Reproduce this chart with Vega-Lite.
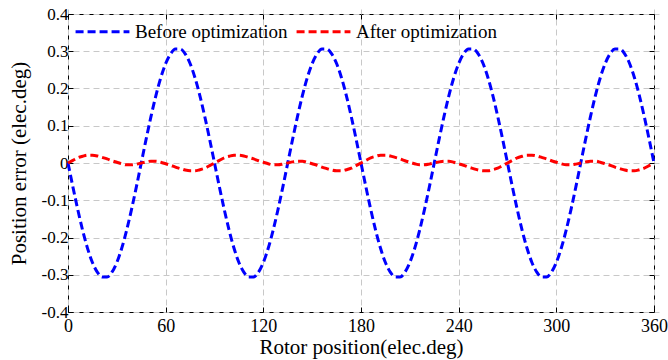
{
  "$schema": "https://vega.github.io/schema/vega-lite/v6.json",
  "width": 586,
  "height": 298,
  "autosize": {"type": "none"},
  "padding": {"left": 68, "top": 14, "right": 14, "bottom": 48},
  "background": "white",
  "config": {
    "font": "Liberation Serif",
    "view": {"stroke": "black", "strokeWidth": 1},
    "axis": {
      "tickColor": "black",
      "tickSize": 5,
      "domain": false,
      "offset": -5,
      "labelColor": "black",
      "titleFontWeight": "normal",
      "titleColor": "black",
      "gridColor": "#c8c8c8",
      "gridDash": [6, 4],
      "labelFlush": false,
      "labelOverlap": false
    }
  },
  "data": {
    "values": [
      {"x": 0, "b": 0, "a": 0},
      {"x": 3, "b": -0.064, "a": 0.007},
      {"x": 6, "b": -0.125, "a": 0.014},
      {"x": 9, "b": -0.181, "a": 0.018},
      {"x": 12, "b": -0.229, "a": 0.021},
      {"x": 15, "b": -0.267, "a": 0.021},
      {"x": 18, "b": -0.293, "a": 0.019},
      {"x": 21, "b": -0.306, "a": 0.015},
      {"x": 24, "b": -0.306, "a": 0.011},
      {"x": 27, "b": -0.293, "a": 0.006},
      {"x": 30, "b": -0.267, "a": 0.002},
      {"x": 33, "b": -0.229, "a": -0.002},
      {"x": 36, "b": -0.181, "a": -0.005},
      {"x": 39, "b": -0.125, "a": -0.005},
      {"x": 42, "b": -0.064, "a": -0.003},
      {"x": 45, "b": 0, "a": 0},
      {"x": 48, "b": 0.064, "a": 0.003},
      {"x": 51, "b": 0.125, "a": 0.005},
      {"x": 54, "b": 0.181, "a": 0.005},
      {"x": 57, "b": 0.229, "a": 0.002},
      {"x": 60, "b": 0.267, "a": -0.002},
      {"x": 63, "b": 0.293, "a": -0.006},
      {"x": 66, "b": 0.306, "a": -0.011},
      {"x": 69, "b": 0.306, "a": -0.015},
      {"x": 72, "b": 0.293, "a": -0.019},
      {"x": 75, "b": 0.267, "a": -0.021},
      {"x": 78, "b": 0.229, "a": -0.021},
      {"x": 81, "b": 0.181, "a": -0.018},
      {"x": 84, "b": 0.125, "a": -0.014},
      {"x": 87, "b": 0.064, "a": -0.007},
      {"x": 90, "b": 0, "a": 0},
      {"x": 93, "b": -0.064, "a": 0.007},
      {"x": 96, "b": -0.125, "a": 0.014},
      {"x": 99, "b": -0.181, "a": 0.018},
      {"x": 102, "b": -0.229, "a": 0.021},
      {"x": 105, "b": -0.267, "a": 0.021},
      {"x": 108, "b": -0.293, "a": 0.019},
      {"x": 111, "b": -0.306, "a": 0.015},
      {"x": 114, "b": -0.306, "a": 0.011},
      {"x": 117, "b": -0.293, "a": 0.006},
      {"x": 120, "b": -0.267, "a": 0.002},
      {"x": 123, "b": -0.229, "a": -0.002},
      {"x": 126, "b": -0.181, "a": -0.005},
      {"x": 129, "b": -0.125, "a": -0.005},
      {"x": 132, "b": -0.064, "a": -0.003},
      {"x": 135, "b": 0, "a": 0},
      {"x": 138, "b": 0.064, "a": 0.003},
      {"x": 141, "b": 0.125, "a": 0.005},
      {"x": 144, "b": 0.181, "a": 0.005},
      {"x": 147, "b": 0.229, "a": 0.002},
      {"x": 150, "b": 0.267, "a": -0.002},
      {"x": 153, "b": 0.293, "a": -0.006},
      {"x": 156, "b": 0.306, "a": -0.011},
      {"x": 159, "b": 0.306, "a": -0.015},
      {"x": 162, "b": 0.293, "a": -0.019},
      {"x": 165, "b": 0.267, "a": -0.021},
      {"x": 168, "b": 0.229, "a": -0.021},
      {"x": 171, "b": 0.181, "a": -0.018},
      {"x": 174, "b": 0.125, "a": -0.014},
      {"x": 177, "b": 0.064, "a": -0.007},
      {"x": 180, "b": 0, "a": 0},
      {"x": 183, "b": -0.064, "a": 0.007},
      {"x": 186, "b": -0.125, "a": 0.014},
      {"x": 189, "b": -0.181, "a": 0.018},
      {"x": 192, "b": -0.229, "a": 0.021},
      {"x": 195, "b": -0.267, "a": 0.021},
      {"x": 198, "b": -0.293, "a": 0.019},
      {"x": 201, "b": -0.306, "a": 0.015},
      {"x": 204, "b": -0.306, "a": 0.011},
      {"x": 207, "b": -0.293, "a": 0.006},
      {"x": 210, "b": -0.267, "a": 0.002},
      {"x": 213, "b": -0.229, "a": -0.002},
      {"x": 216, "b": -0.181, "a": -0.005},
      {"x": 219, "b": -0.125, "a": -0.005},
      {"x": 222, "b": -0.064, "a": -0.003},
      {"x": 225, "b": 0, "a": 0},
      {"x": 228, "b": 0.064, "a": 0.003},
      {"x": 231, "b": 0.125, "a": 0.005},
      {"x": 234, "b": 0.181, "a": 0.005},
      {"x": 237, "b": 0.229, "a": 0.002},
      {"x": 240, "b": 0.267, "a": -0.002},
      {"x": 243, "b": 0.293, "a": -0.006},
      {"x": 246, "b": 0.306, "a": -0.011},
      {"x": 249, "b": 0.306, "a": -0.015},
      {"x": 252, "b": 0.293, "a": -0.019},
      {"x": 255, "b": 0.267, "a": -0.021},
      {"x": 258, "b": 0.229, "a": -0.021},
      {"x": 261, "b": 0.181, "a": -0.018},
      {"x": 264, "b": 0.125, "a": -0.014},
      {"x": 267, "b": 0.064, "a": -0.007},
      {"x": 270, "b": 0, "a": 0},
      {"x": 273, "b": -0.064, "a": 0.007},
      {"x": 276, "b": -0.125, "a": 0.014},
      {"x": 279, "b": -0.181, "a": 0.018},
      {"x": 282, "b": -0.229, "a": 0.021},
      {"x": 285, "b": -0.267, "a": 0.021},
      {"x": 288, "b": -0.293, "a": 0.019},
      {"x": 291, "b": -0.306, "a": 0.015},
      {"x": 294, "b": -0.306, "a": 0.011},
      {"x": 297, "b": -0.293, "a": 0.006},
      {"x": 300, "b": -0.267, "a": 0.002},
      {"x": 303, "b": -0.229, "a": -0.002},
      {"x": 306, "b": -0.181, "a": -0.005},
      {"x": 309, "b": -0.125, "a": -0.005},
      {"x": 312, "b": -0.064, "a": -0.003},
      {"x": 315, "b": 0, "a": 0},
      {"x": 318, "b": 0.064, "a": 0.003},
      {"x": 321, "b": 0.125, "a": 0.005},
      {"x": 324, "b": 0.181, "a": 0.005},
      {"x": 327, "b": 0.229, "a": 0.002},
      {"x": 330, "b": 0.267, "a": -0.002},
      {"x": 333, "b": 0.293, "a": -0.006},
      {"x": 336, "b": 0.306, "a": -0.011},
      {"x": 339, "b": 0.306, "a": -0.015},
      {"x": 342, "b": 0.293, "a": -0.019},
      {"x": 345, "b": 0.267, "a": -0.021},
      {"x": 348, "b": 0.229, "a": -0.021},
      {"x": 351, "b": 0.181, "a": -0.018},
      {"x": 354, "b": 0.125, "a": -0.014},
      {"x": 357, "b": 0.064, "a": -0.007},
      {"x": 360, "b": 0, "a": 0}
    ]
  },
  "transform": [{"fold": ["b", "a"], "as": ["series", "y"]}],
  "layer": [
    {
      "transform": [{"filter": "datum.series === 'b'"}],
      "mark": {"type": "line", "strokeWidth": 3, "strokeDash": [8, 4], "interpolate": "monotone"},
      "encoding": {
        "x": {
          "field": "x", "type": "quantitative",
          "scale": {"domain": [0, 360], "nice": false, "zero": false},
          "axis": {"orient": "bottom", "values": [0, 60, 120, 180, 240, 300, 360], "title": "Rotor position(elec.deg)", "labelFont": "Liberation Serif", "labelFontSize": 18, "titleFont": "Liberation Serif", "titleFontSize": 21, "labelPadding": 5, "titlePadding": 1, "grid": true}
        },
        "y": {
          "field": "y", "type": "quantitative",
          "scale": {"domain": [-0.4, 0.4], "nice": false},
          "axis": {"orient": "left", "values": [-0.4, -0.3, -0.2, -0.1, 0, 0.1, 0.2, 0.3, 0.4], "labelExpr": "toString(round(datum.value*10)/10)", "title": "Position error (elec.deg)", "labelFont": "Liberation Serif", "labelFontSize": 17, "titleFont": "Liberation Serif", "titleFontSize": 21, "labelPadding": 0, "titlePadding": 12, "grid": true}
        },
        "color": {
          "field": "series", "type": "nominal",
          "scale": {"domain": ["b", "a"], "range": ["#0000ff", "#ff0000"]},
          "legend": {
            "orient": "none", "legendX": 6, "legendY": -11, "direction": "horizontal",
            "title": null, "symbolType": "stroke", "symbolStrokeWidth": 3, "symbolDash": [8, 4],
            "symbolSize": 2900, "labelFontSize": 19, "labelFont": "Liberation Serif", "labelColor": "black",
            "labelOffset": 4, "columnPadding": 2,
            "labelExpr": "datum.value === 'b' ? 'Before optimization' : 'After optimization'"
          }
        }
      }
    },
    {
      "transform": [{"filter": "datum.series === 'a'"}],
      "mark": {"type": "line", "strokeWidth": 3, "strokeDash": [8, 4], "interpolate": "monotone"},
      "encoding": {
        "x": {
          "field": "x", "type": "quantitative",
          "axis": {"orient": "top", "values": [0, 60, 120, 180, 240, 300, 360], "labels": false, "title": null, "grid": false}
        },
        "y": {
          "field": "y", "type": "quantitative",
          "axis": {"orient": "right", "values": [-0.4, -0.3, -0.2, -0.1, 0, 0.1, 0.2, 0.3, 0.4], "labels": false, "title": null, "grid": false}
        },
        "color": {"field": "series", "type": "nominal"}
      }
    }
  ],
  "resolve": {"axis": {"x": "independent", "y": "independent"}}
}
